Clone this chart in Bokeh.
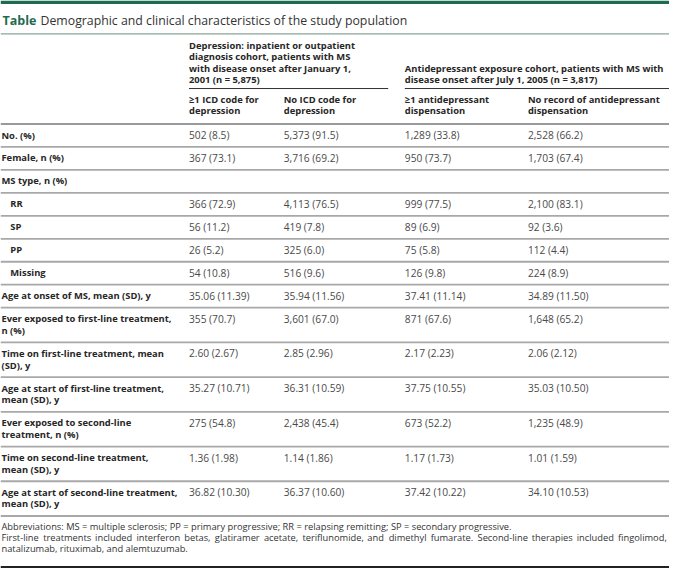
from bokeh.plotting import figure
from bokeh.models import Range1d, ColumnDataSource
from bokeh.embed import file_html
from bokeh.resources import INLINE
from bokeh.core.properties import value

# ---------------- data ----------------
title_lead = "Table"
title_rest = "Demographic and clinical characteristics of the study population"

group_headers = [
    "Depression: inpatient or outpatient\ndiagnosis cohort, patients with MS\nwith disease onset after January 1,\n2001 (n = 5,875)",
    "Antidepressant exposure cohort, patients with MS with\ndisease onset after July 1, 2005 (n = 3,817)",
]
sub_headers = [
    "≥1 ICD code for\ndepression",
    "No ICD code for\ndepression",
    "≥1 antidepressant\ndispensation",
    "No record of antidepressant\ndispensation",
]
row_labels = [
    "No. (%)",
    "Female, n (%)",
    "MS type, n (%)",
    "RR",
    "SP",
    "PP",
    "Missing",
    "Age at onset of MS, mean (SD), y",
    "Ever exposed to first-line treatment,\nn (%)",
    "Time on first-line treatment, mean\n(SD), y",
    "Age at start of first-line treatment,\nmean (SD), y",
    "Ever exposed to second-line\ntreatment, n (%)",
    "Time on second-line treatment,\nmean (SD), y",
    "Age at start of second-line treatment,\nmean (SD), y",
]
row_indented = [False, False, False, True, True, True, True,
                False, False, False, False, False, False, False]
col_icd = ["502 (8.5)", "367 (73.1)", "", "366 (72.9)", "56 (11.2)", "26 (5.2)",
           "54 (10.8)", "35.06 (11.39)", "355 (70.7)", "2.60 (2.67)",
           "35.27 (10.71)", "275 (54.8)", "1.36 (1.98)", "36.82 (10.30)"]
col_no_icd = ["5,373 (91.5)", "3,716 (69.2)", "", "4,113 (76.5)", "419 (7.8)",
              "325 (6.0)", "516 (9.6)", "35.94 (11.56)", "3,601 (67.0)",
              "2.85 (2.96)", "36.31 (10.59)", "2,438 (45.4)", "1.14 (1.86)",
              "36.37 (10.60)"]
col_ad = ["1,289 (33.8)", "950 (73.7)", "", "999 (77.5)", "89 (6.9)", "75 (5.8)",
          "126 (9.8)", "37.41 (11.14)", "871 (67.6)", "2.17 (2.23)",
          "37.75 (10.55)", "673 (52.2)", "1.17 (1.73)", "37.42 (10.22)"]
col_no_ad = ["2,528 (66.2)", "1,703 (67.4)", "", "2,100 (83.1)", "92 (3.6)",
             "112 (4.4)", "224 (8.9)", "34.89 (11.50)", "1,648 (65.2)",
             "2.06 (2.12)", "35.03 (10.50)", "1,235 (48.9)", "1.01 (1.59)",
             "34.10 (10.53)"]
footnotes = [
    "Abbreviations: MS = multiple sclerosis; PP = primary progressive; RR = relapsing remitting; SP = secondary progressive.",
    "First-line treatments included interferon betas, glatiramer acetate, teriflunomide, and dimethyl fumarate. Second-line therapies included fingolimod,",
    "natalizumab, rituximab, and alemtuzumab.",
]
footnote_justified = [False, True, False]

# ---------------- layout (reference pixel space) ----------------
W, H = 685, 584
FONT = "Open Sans"
GREEN = "#1f6b50"
col_x = [193, 290, 414, 540]
label_x, indent_x = 1, 10
table_top = 127
single_h, double_h = 23.6, 35.7
line_gap = 12.0
BOLD_SIZE, VAL_SIZE, FOOT_SIZE = 9.4, 10.2, 9.3

# approximate Open Sans advance widths (em), only used to spread justified words
ADV = {"a": .56, "b": .61, "c": .48, "d": .61, "e": .56, "f": .34, "g": .55,
       "h": .61, "i": .25, "j": .25, "k": .53, "l": .25, "m": .93, "n": .61,
       "o": .60, "p": .61, "q": .61, "r": .41, "s": .47, "t": .35, "u": .61,
       "v": .50, "w": .78, "x": .52, "y": .50, "z": .47, ",": .25, ".": .27,
       ";": .27, ":": .27, "-": .32, "F": .55, "S": .55}

p = figure(width=669, height=568, x_range=Range1d(0, W), y_range=Range1d(H, 0),
           output_backend="svg", toolbar_location=None, min_border=0,
           x_axis_type=None, y_axis_type=None, background_fill_color="white",
           border_fill_color="white")
p.outline_line_color = None
p.grid.visible = False

# top green bar
p.quad(left=[0], right=[W], top=[0], bottom=[3.5], fill_color=GREEN, line_color=None)

texts = {"bold": ([], [], [], []), "normal": ([], [], [], []),
         "foot": ([], [], [], [])}


def add(kind, x, y, t, color):
    xs, ys, ts, cs = texts[kind]
    xs.append(x); ys.append(y); ts.append(t); cs.append(color)


def add_multi(kind, x, y0, t, color, gap=line_gap):
    for i, line in enumerate(t.split("\n")):
        add(kind, x, y0 + i * gap, line, color)


def est_width(word, size):
    return sum(ADV.get(ch, 0.57) for ch in word) * size


# title
p.text(x=[2], y=[20.5], text=[title_lead], text_font=value(FONT),
       text_font_style="bold", text_font_size="12.5px", text_color=GREEN,
       text_baseline="middle", text_align="left")
p.text(x=[41], y=[20.5], text=[title_rest], text_font=value(FONT),
       text_font_size="12.3px", text_color="#333333",
       text_baseline="middle", text_align="left")

# header
add_multi("bold", col_x[0], 46.5, group_headers[0], "#262626", 11.5)
add_multi("bold", col_x[2], 70.0, group_headers[1], "#262626", 11.5)
for cx, sh in zip(col_x, sub_headers):
    add_multi("bold", cx, 102.0, sh, "#262626", 11.5)

seg_x0, seg_x1, seg_y, seg_c, seg_w = [], [], [], [], []


def hline(x0, x1, y, c, w):
    seg_x0.append(x0); seg_x1.append(x1); seg_y.append(y); seg_c.append(c); seg_w.append(w)


hline(0, W, 34.3, "#8aa597", 1.2)
hline(col_x[0], 397, 90.5, "#333333", 1.0)
hline(col_x[2], W, 90.5, "#333333", 1.0)
hline(0, W, table_top, "#9a9a9a", 2.0)

# body
y = table_top
for i, lab in enumerate(row_labels):
    nlines = lab.count("\n") + 1
    h = single_h if nlines == 1 else double_h
    ty = y + 11.3
    add_multi("bold", indent_x if row_indented[i] else label_x, ty, lab, "#262626")
    for cx, col in zip(col_x, [col_icd, col_no_icd, col_ad, col_no_ad]):
        if col[i]:
            add("normal", cx, ty, col[i], "#4a4a4a")
    y += h
    hline(0, W, y, "#a8a8a8", 1.8)

# footnotes
for j, fn in enumerate(footnotes):
    fy = y + 11 + j * 11.2
    if footnote_justified[j]:
        words = fn.split(" ")
        widths = [est_width(wd, FOOT_SIZE) for wd in words]
        gap = (W - 4 - 1 - sum(widths)) / (len(words) - 1)
        xcur = 1
        for wd, wdw in zip(words, widths):
            add("foot", xcur, fy, wd, "#333333")
            xcur += wdw + gap
    else:
        add("foot", 1, fy, fn, "#333333")
hline(0, W, 582.5, "#222222", 2.0)

p.segment(x0=seg_x0, y0=seg_y, x1=seg_x1, y1=seg_y, line_color=seg_c,
          line_width=seg_w)

styles = {"bold": ("bold", f"{BOLD_SIZE}px"), "normal": ("normal", f"{VAL_SIZE}px"),
          "foot": ("normal", f"{FOOT_SIZE}px")}
for kind, (xs, ys, ts, cs) in texts.items():
    src = ColumnDataSource(dict(x=xs, y=ys, text=ts, color=cs))
    st, sz = styles[kind]
    p.text(x="x", y="y", text="text", text_color="color", source=src,
           text_font=value(FONT), text_font_style=st, text_font_size=sz,
           text_baseline="middle", text_align="left")

open("out.html", "w").write(file_html(p, INLINE))
